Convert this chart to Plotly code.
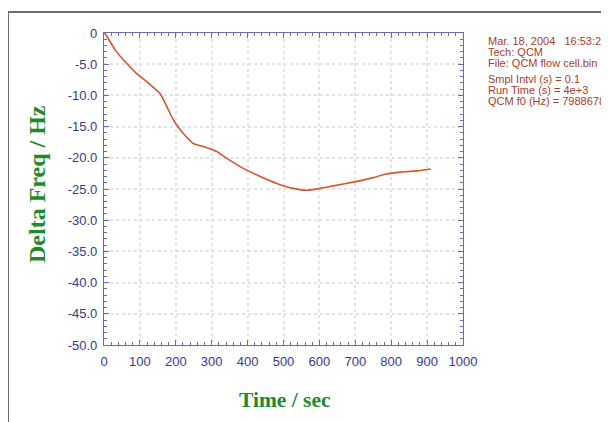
import plotly.graph_objects as go

time_s = [0, 3, 31, 54, 91, 119, 156, 175, 193, 221, 249, 277, 314, 342, 388, 435, 481, 527, 565, 602, 639, 694, 741, 787, 825, 871, 910]
delta_freq = [0, -0.1, -2.7, -4.3, -6.5, -7.8, -9.7, -11.8, -13.9, -16.1, -17.7, -18.2, -19.0, -20.1, -21.7, -23.0, -24.1, -24.9, -25.2, -24.9, -24.5, -23.9, -23.3, -22.6, -22.3, -22.1, -21.8]

x_ticks = [0, 100, 200, 300, 400, 500, 600, 700, 800, 900, 1000]
y_ticks = [0, -5, -10, -15, -20, -25, -30, -35, -40, -45, -50]
y_ticktext = ["0", "-5.0", "-10.0", "-15.0", "-20.0", "-25.0", "-30.0", "-35.0", "-40.0", "-45.0", "-50.0"]

info_lines = [
    "Mar. 18, 2004   16:53:29",
    "Tech: QCM",
    "File: QCM flow cell.bin",
    "Smpl Intvl (s) = 0.1",
    "Run Time (s) = 4e+3",
    "QCM f0 (Hz) = 7988678",
]

# page body has an 8px margin; work in window pixels and shift
OFF = 8
W, H = 609 - OFF, 422 - OFF
L, R, T, B = 104 - OFF, 146, 33 - OFF, 77
pw, ph = W - L - R, H - T - B

def px(x):
    return (x - OFF - L) / pw

def py(y):
    return 1 - (y - OFF - T) / ph

fig = go.Figure()
fig.add_trace(go.Scatter(x=time_s, y=delta_freq, mode="lines",
                         line=dict(color="#d4552e", width=1.6, shape="spline", smoothing=0.6),
                         showlegend=False, hoverinfo="skip"))

axis_col = "#6b6ba8"
tick_font = dict(family="Arial, Liberation Sans, sans-serif", size=13, color="#38388a")
grid_col = "#e2e2ea"
fig.update_xaxes(range=[0, 1000], tickvals=x_ticks, showline=True, linecolor=axis_col, linewidth=1.2,
                 mirror="ticks", ticks="inside", ticklen=5, tickcolor=axis_col, tickwidth=1,
                 minor=dict(dtick=20, ticks="inside", ticklen=3, tickcolor=axis_col, showgrid=False),
                 showgrid=True, gridcolor=grid_col, griddash="dot", gridwidth=1.5,
                 tickfont=tick_font, ticklabelstandoff=4, zeroline=False, fixedrange=True)
fig.update_yaxes(range=[-50, 0], tickvals=y_ticks, ticktext=y_ticktext, showline=True, linecolor=axis_col,
                 linewidth=1.2, mirror="ticks", ticks="inside", ticklen=5, tickcolor=axis_col, tickwidth=1,
                 minor=dict(dtick=1, ticks="inside", ticklen=3, tickcolor=axis_col, showgrid=False),
                 showgrid=True, gridcolor=grid_col, griddash="dot", gridwidth=1.5,
                 tickfont=tick_font, ticklabelstandoff=3, zeroline=False, fixedrange=True)

annotations = [
    dict(text="<b>Delta Freq / Hz</b>", x=px(37), y=py(184), xref="paper", yref="paper", textangle=-90,
         showarrow=False, font=dict(family="Liberation Serif, Times New Roman, serif", size=24, color="#1f8a2a"),
         xanchor="center", yanchor="middle"),
    dict(text="<b>Time / sec</b>", x=px(285), y=py(400), xref="paper", yref="paper",
         showarrow=False, font=dict(family="Liberation Serif, Times New Roman, serif", size=21.5, color="#1f8a2a"),
         xanchor="center", yanchor="middle"),
]
line_ys = [41, 52, 63, 79, 90, 101]
for txt, yy in zip(info_lines, line_ys):
    annotations.append(dict(text=txt, x=px(486), y=py(yy), xref="paper", yref="paper", showarrow=False,
                            xanchor="left", yanchor="middle",
                            font=dict(family="Arial, Liberation Sans, sans-serif", size=11, color="#a4402c")))

shapes = [
    dict(type="line", xref="paper", yref="paper", x0=px(8), x1=px(8), y0=py(11), y1=py(440),
         line=dict(color="#6e6e6e", width=2)),
    dict(type="line", xref="paper", yref="paper", x0=px(7), x1=px(620), y0=py(12), y1=py(12),
         line=dict(color="#6e6e6e", width=2)),
]

fig.update_layout(width=W, height=H, margin=dict(l=L, r=R, t=T, b=B, autoexpand=False),
                  paper_bgcolor="white", plot_bgcolor="white",
                  annotations=annotations, shapes=shapes, showlegend=False)
fig.write_html("out.html")
